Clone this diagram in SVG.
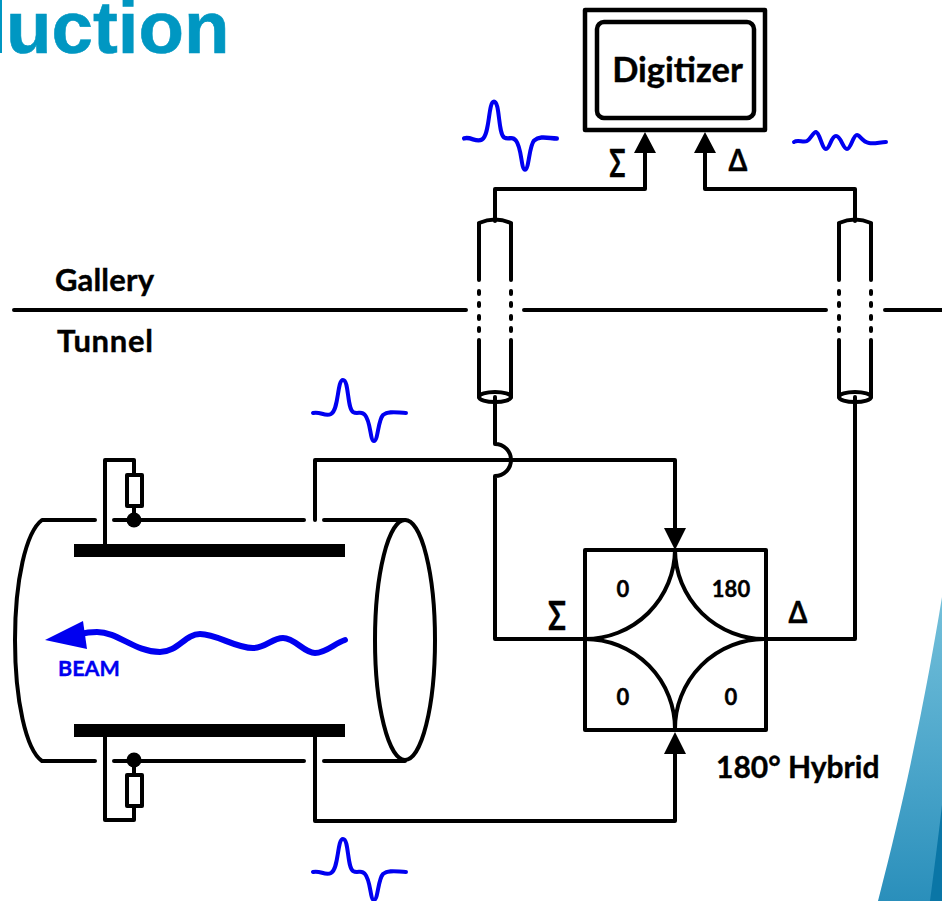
<svg xmlns="http://www.w3.org/2000/svg" width="942" height="901" viewBox="0 0 942 901">
<style>
.l{fill:none;stroke:#000;stroke-width:4;stroke-linecap:round;stroke-linejoin:round}
.t{font-family:"Lato","Liberation Sans",sans-serif;font-weight:700;fill:#000;stroke:#000;stroke-width:.4}
.p{fill:none;stroke:#0000f0;stroke-width:4;stroke-linecap:round;stroke-linejoin:round}
</style>
<defs>
<linearGradient id="g1" x1="0" y1="0" x2="0" y2="1"><stop offset="0" stop-color="#74c0da"/><stop offset="0.5" stop-color="#4fa8cc"/><stop offset="1" stop-color="#2a8fbb"/></linearGradient>
<path id="pulse" d="M313 413C320 411 325 417 331 414C339 410 337 380 343 380C349 380 347 408 353 412C358 415 361 410 365 415C371 422 370 441 374 441C378 441 378 420 383 415C389 410 398 413 406 413"/>
</defs>
<rect width="942" height="901" fill="#fff"/>
<g id="backdrop">
<path d="M942 597C930 670 912 770 878 901H942Z" fill="url(#g1)"/>
<path d="M942 805C938 840 934 870 930 901H942Z" fill="#0a76a6"/>
</g>
<g id="title">
<rect x="0" y="0" width="2" height="53" fill="#0097c2"/>
<text x="6" y="53" style="font-family:'Liberation Sans',sans-serif;font-weight:700;font-size:74.5px;fill:#0097c2;stroke:#0097c2;stroke-width:.6">uction</text>
</g>
<g id="divider">
<path class="l" d="M14 310H466M524 310H826M885 310H942"/>
<text class="t" x="55" y="291" font-size="31" textLength="99">Gallery</text>
<text class="t" x="57" y="352" font-size="31" textLength="96">Tunnel</text>
</g>
<g id="connectors">
<path class="l" d="M645 150V189H495V221"/>
<path class="l" d="M705 150V189H855V221"/>
<path class="l" d="M495 397V444A16 16 0 0 1 495 476V639H586"/>
<path class="l" d="M855 397V639H766"/>
<path class="l" d="M315 520V460H675V530"/>
<path class="l" d="M315 737V821H675V752"/>
<path d="M645 132L634 153H656Z M705 132L694 153H716Z M675 550L664 528H686Z M675 732L664 754H686Z" fill="#000"/>
</g>
<g id="digitizer">
<rect class="l" x="585" y="10" width="180" height="120" style="stroke-width:4.5"/>
<rect class="l" x="597" y="22" width="157" height="96" rx="7" style="stroke-width:4.5"/>
<text class="t" x="677.5" y="82" font-size="34.5" text-anchor="middle">Digitizer</text>
</g>
<g id="coax-sum">
<path class="l" d="M479 223V280M511 223V280M479 223Q495 216 511 223M479 340V397M511 340V397"/>
<path class="l" d="M479 291V294M479 303V306M479 316V319M479 328V331M511 291V294M511 303V306M511 316V319M511 328V331"/>
<ellipse class="l" cx="495" cy="397" rx="16" ry="5"/>
</g>
<g id="coax-delta">
<path class="l" d="M839 223V280M871 223V280M839 223Q855 216 871 223M839 340V397M871 340V397"/>
<path class="l" d="M839 291V294M839 303V306M839 316V319M839 328V331M871 291V294M871 303V306M871 316V319M871 328V331"/>
<ellipse class="l" cx="855" cy="397" rx="16" ry="5"/>
</g>
<g id="hybrid">
<rect class="l" x="585" y="550" width="181" height="180"/>
<path class="l" d="M675 550A90 90 0 0 1 585 639A90 90 0 0 1 675 730A90 90 0 0 1 766 639A90 90 0 0 1 675 550Z"/>
<text class="t" x="623" y="597" font-size="22" text-anchor="middle">0</text>
<text class="t" x="731" y="597" font-size="22" text-anchor="middle">180</text>
<text class="t" x="623" y="705" font-size="22" text-anchor="middle">0</text>
<text class="t" x="731" y="705" font-size="22" text-anchor="middle">0</text>
<text class="t" transform="translate(557 630) scale(.72 1)" font-size="41" text-anchor="middle">Σ</text>
<text class="t" transform="translate(798 623) scale(.87 1)" font-size="31" text-anchor="middle">Δ</text>
<text class="t" x="716" y="778" font-size="30">180° Hybrid</text>
</g>
<text id="sum-label" class="t" transform="translate(617.5 177) scale(.7 1)" font-size="38" text-anchor="middle">Σ</text>
<text id="delta-label" class="t" transform="translate(738 171) scale(.87 1)" font-size="31" text-anchor="middle">Δ</text>
<g id="pipe">
<path class="l" d="M95 520H42C26 532 15 580 15 640C15 700 26 750 42 761H95M114 520H304M324 520H405M114 761H304M324 761H405"/>
<ellipse class="l" cx="405" cy="640" rx="30" ry="120"/>
</g>
<g id="pickup-top">
<rect x="74" y="544" width="271" height="13" fill="#000"/>
<path class="l" d="M105 544V460H134V475M134 506V520"/>
<rect class="l" x="127" y="475" width="15" height="31"/>
<circle cx="134" cy="520" r="7.5" fill="#000"/>
</g>
<g id="pickup-bottom">
<rect x="74" y="724" width="271" height="13" fill="#000"/>
<path class="l" d="M105 737V820H134V806M134 775V760"/>
<rect class="l" x="127" y="775" width="15" height="31"/>
<circle cx="134" cy="760" r="7.5" fill="#000"/>
</g>
<g id="beam">
<path class="p" style="stroke-width:6" d="M345 640C335 643 326 653 315 653C304 653 295 638 283 638C272 638 266 648 253 648C235 648 217 634 200 634C185 634 178 652 160 652C135 652 118 632 97 632C92 632 88 632 80 634"/>
<path d="M45 640L83 621L87 649Z" fill="#0000f0"/>
<text x="58" y="676" style="font-family:Lato,'Liberation Sans',sans-serif;font-weight:700;font-size:21.5px;fill:#0000f0;stroke:#0000f0;stroke-width:.4">BEAM</text>
</g>
<g id="signals">
<use href="#pulse" class="p"/>
<use href="#pulse" class="p" y="459"/>
<use href="#pulse" class="p" transform="translate(151 -320) scale(1 1.11)"/>
<path class="p" d="M794 142C798 139 803 143 807 141C811 139 813 132 816 132C820 133 822 149 826 149C830 149 831 136 836 136C841 136 843 149 847 149C851 149 853 135 857 135C860 135 862 142 869 143C875 144 880 142 886 142"/>
</g>
</svg>
